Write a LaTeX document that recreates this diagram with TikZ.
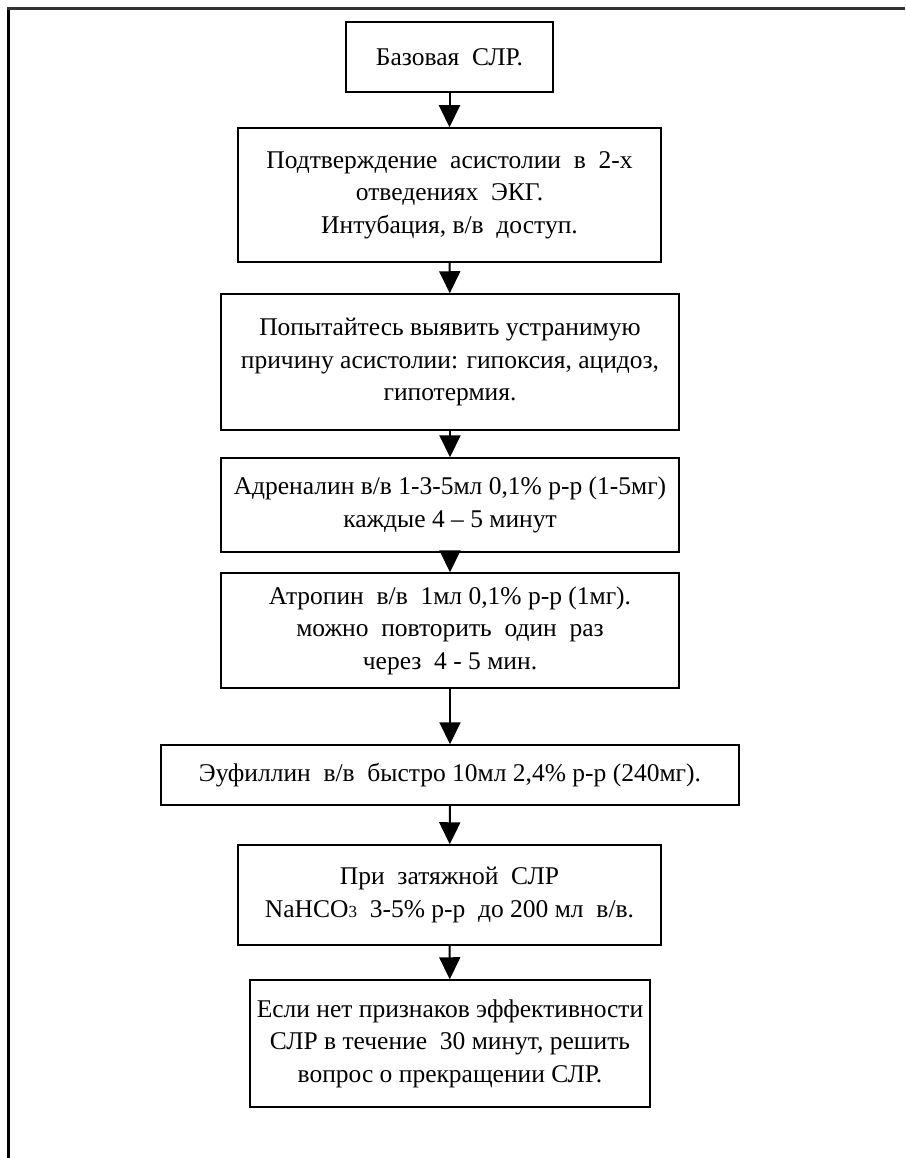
\documentclass[tikz,border=0pt]{standalone}
\usepackage{fontspec}
\setmainfont{Liberation Serif}
\usetikzlibrary{arrows.meta}
\tikzset{
  stepbox/.style={draw=black, line width=1.5pt, align=center, inner sep=0pt,
    font=\fontsize{25.5}{32.5}\selectfont},
  flow/.style={draw=black, line width=2pt,
    -{Triangle[length=22pt,width=21pt]}},
  frame/.style={draw=black, line width=3pt}
}
\begin{document}
\begin{tikzpicture}[x=1pt,y=-1pt]
  \useasboundingbox (0,0) rectangle (905,1158);
  % page frame: left edge and top edge
  \draw[frame] (8.5,1158) -- (8.5,8.5);
  \draw[draw=black!80, line width=2.2pt] (7,8.5) -- (905,8.5);

  \node[stepbox, minimum width=207pt, minimum height=70pt] (b1) at (449.5,57)
    {Базовая\ \ СЛР.};
  \node[stepbox, minimum width=423pt, minimum height=134pt] (b2) at (449.5,195)
    {Подтверждение\ \ асистолии\ \ в\ \ 2-х\\отведениях\ \ ЭКГ.\\Интубация, в/в\ \ доступ.};
  \node[stepbox, minimum width=458pt, minimum height=136pt] (b3) at (450,362)
    {Попытайтесь выявить устранимую\\причину асистолии: гипоксия, ацидоз,\\гипотермия.};
  \node[stepbox, minimum width=458pt, minimum height=94pt] (b4) at (450,505)
    {Адреналин в/в 1-3-5мл 0,1\% р-р (1-5мг)\\каждые 4 -- 5 минут};
  \node[stepbox, minimum width=458pt, minimum height=115pt] (b5) at (450,630.5)
    {Атропин\ \ в/в\ \ 1мл 0,1\% р-р (1мг).\\можно\ \ повторить\ \ один\ \ раз\\через\ \ 4 - 5 мин.};
  \node[stepbox, minimum width=578pt, minimum height=60pt] (b6) at (450,775)
    {Эуфиллин\ \ в/в\ \ быстро 10мл 2,4\% р-р (240мг).};
  \node[stepbox, minimum width=423pt, minimum height=100pt] (b7) at (449.5,895)
    {При\ \ затяжной\ \ СЛР\\NaHCO{\fontsize{17}{20}\selectfont 3}\ \ 3-5\% р-р\ \ до 200 мл\ \ в/в.};
  \node[stepbox, minimum width=400pt, minimum height=127pt] (b8) at (450,1043.5)
    {Если нет признаков эффективности\\СЛР в течение\ \ 30 минут, решить\\вопрос о прекращении СЛР.};

  \draw[flow] (b1) -- (b2);
  \draw[flow] (b2) -- (b3);
  \draw[flow] (b3) -- (b4);
  \draw[flow] (b4) -- (b5);
  \draw[flow] (b5) -- (b6);
  \draw[flow] (b6) -- (b7);
  \draw[flow] (b7) -- (b8);
\end{tikzpicture}
\end{document}
